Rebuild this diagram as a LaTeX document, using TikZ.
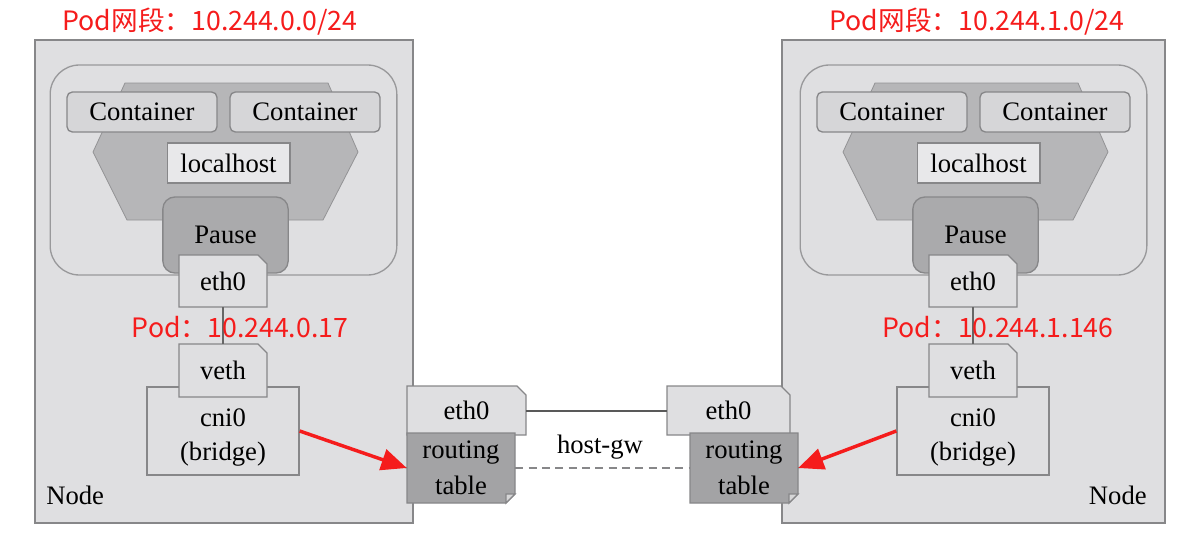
\documentclass[tikz,border=0pt]{standalone}
\usepackage{fontspec}
\setmainfont{Liberation Serif}
\newfontfamily\cjk{Noto Sans CJK SC}
\usetikzlibrary{arrows.meta}

\definecolor{nodebg}{RGB}{223,223,225}
\definecolor{edge}{RGB}{135,135,137}
\definecolor{hexgray}{RGB}{182,182,184}
\definecolor{boxgray}{RGB}{214,214,216}
\definecolor{lightbox}{RGB}{232,232,234}
\definecolor{pausegray}{RGB}{170,170,172}
\definecolor{tablegray}{RGB}{163,163,165}
\definecolor{podred}{RGB}{245,28,28}

% box with its top right corner cut off
\newcommand{\earbox}[6]{%
  \filldraw[ear] (#2,#3) -- ({(#4)-9},#3) -- (#4,{(#3)+9}) -- (#4,#5) -- (#2,#5) -- cycle;
  \node[plain, minimum width={((#4)-(#2))*0.75pt}, minimum height={((#5)-(#3))*0.75pt}]
    (#1) at ({((#2)+(#4))/2},{((#3)+(#5))/2}) {#6};}

% table with its bottom right corner folded
\newcommand{\foldbox}[6]{%
  \filldraw[fold] (#2,#3) -- (#4,#3) -- (#4,{(#5)-9}) -- ({(#4)-9},#5) -- (#2,#5) -- cycle;
  \filldraw[fold, fill=tablegray!45!white] (#4,{(#5)-9}) -- ({(#4)-9},#5) -- ({(#4)-9},{(#5)-9}) -- cycle;
  \node[plain, font=\fontsize{20}{27}\selectfont, minimum width={((#4)-(#2))*0.75pt}, minimum height={((#5)-(#3))*0.75pt}]
    (#1) at ({((#2)+(#4))/2},{((#3)+(#5))/2}) {#6};}

\begin{document}
\begin{tikzpicture}[x=0.75pt, y=-0.75pt,
    txt/.style = {font=\fontsize{20}{26}\selectfont},
    plain/.style = {inner sep=0pt, align=center, txt},
    host/.style = {draw=edge, fill=nodebg, line width=1.5pt, minimum width=283.5pt, minimum height=362pt},
    pod/.style = {draw=edge!85, fill=nodebg, line width=1pt, rounded corners=22pt, minimum width=260pt, minimum height=157.5pt},
    hex/.style = {fill=hexgray, draw=edge!90, line width=0.6pt},
    ctr/.style = {draw=edge, fill=boxgray, rounded corners=4pt, line width=1pt, minimum width=112.5pt, minimum height=30pt, txt},
    lo/.style = {draw=edge, fill=lightbox, line width=1pt, minimum width=92pt, minimum height=30pt, txt},
    pause/.style = {draw=edge, fill=pausegray, rounded corners=9pt, line width=1pt, minimum width=94pt, minimum height=57pt, txt},
    bridge/.style = {draw=edge, fill=nodebg, line width=1pt, minimum width=114pt, minimum height=66pt},
    ear/.style = {draw=edge, fill=nodebg, line width=1pt},
    fold/.style = {draw=edge, fill=tablegray, line width=1pt},
    redtxt/.style = {text=podred, inner sep=0pt, font=\cjk\fontsize{20}{24}\selectfont},
    link/.style = {draw=black!60, line width=0.8pt},
    wire/.style = {draw=black!65, line width=1.5pt},
    gw/.style = {draw=edge, line width=1.2pt, dash pattern=on 6pt off 4pt},
    shade/.style = {draw=black!55, line width=0.8pt},
    hint/.style = {draw=podred, line width=2.6pt, -{Triangle[length=19pt,width=16pt]}}]
\useasboundingbox (0,0) rectangle (1195,546);

\node[host] (nodeL) at (224,281.5) {};
\node[host, minimum width=287pt] (nodeR) at (973.5,281.5) {};
\node[redtxt] (netL) at (210,22) {Pod网段：10.244.0.0/24};
\node[redtxt] (netR) at (977,22) {Pod网段：10.244.1.0/24};

% the two pods
\foreach \s/\dx in {L/0, R/750} {
  \begin{scope}[shift={(\dx,0)}]
    \node[pod] (pod\s) at (223.5,170) {};
    \filldraw[hex] (125,83) -- (328,83) -- (358,152) -- (323,220) -- (127,220) -- (93,152) -- cycle;
    \node[ctr] (ctrA\s) at (142,112) {Container};
    \node[ctr] (ctrB\s) at (305,112) {Container};
    \node[lo] (lo\s) at (228.5,163) {localhost};
    \node[pause] (pause\s) at (225.5,235) {Pause};
    \earbox{eth\s}{179}{255}{267}{307}{eth0}
    \node[bridge, label={[plain, yshift=-5pt]center:{cni0\\(bridge)}}] (cni\s) at (223,431) {};
    \earbox{veth\s}{179}{344}{267}{397}{veth}
    \draw[link] (eth\s) -- (veth\s);
  \end{scope}
}

\node[redtxt] (ipL) at (240,327) {Pod：10.244.0.17};
\node[redtxt] (ipR) at (998,327) {Pod：10.244.1.146};
\node[plain, anchor=west] (labL) at (46,495) {Node};
\node[plain, anchor=east] (labR) at (1147,495) {Node};

% host side
\earbox{hostethL}{407}{386}{526}{435}{eth0}
\foldbox{rtL}{407}{433}{515}{503}{routing\\table}
\earbox{hostethR}{667}{386}{790}{435}{eth0}
\foldbox{rtR}{690}{433}{798}{503}{routing\\table}

\draw[wire] (hostethL) -- (hostethR);
\draw[gw] (rtL) -- (rtR);
\node[plain] (gw) at (600,447) {host-gw};

\draw[shade] (cniL.east) -- (rtL.west);
\draw[shade] (cniR.west) -- (rtR.east);
\draw[hint] (cniL.east) -- (rtL.west);
\draw[hint] (cniR.west) -- (rtR.east);
\end{tikzpicture}
\end{document}
